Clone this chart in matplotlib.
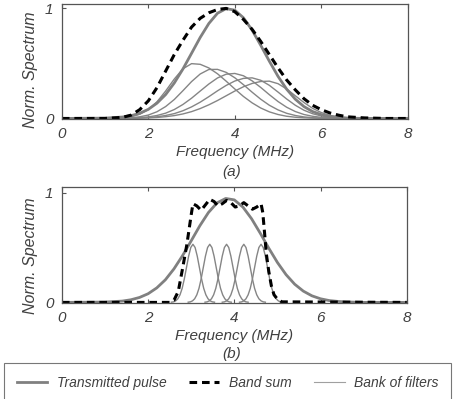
import matplotlib
matplotlib.use('Agg')
import matplotlib.pyplot as plt
from matplotlib.lines import Line2D
import numpy as np

plt.rcParams['font.family'] = ['Liberation Sans', 'DejaVu Sans']
plt.rcParams['font.style'] = 'italic'
plt.rcParams['font.size'] = 11
plt.rcParams['lines.scale_dashes'] = False

# frequency grid (MHz) used for the broad curves
freq = [0, 1.0, 1.4, 1.6, 1.8, 2.0, 2.2, 2.4, 2.6, 2.8,
        3.0, 3.2, 3.4, 3.6, 3.8, 4.0, 4.2, 4.4, 4.6, 4.8,
        5.0, 5.2, 5.4, 5.6, 5.8, 6.0, 6.2, 6.4, 6.6, 7.0, 7.5, 8.0]

# (a) transmitted pulse, band sum and the five broad filters
pulse_a = [0, .003, .013, .025, .047, .083, .139, .217, .322, .449,
           .592, .736, .863, .956, .998, .984, .915, .803, .665, .520,
           .383, .266, .175, .108, .063, .035, .018, .009, .004, 0, 0, 0]
bandsum_a = [0, 0, .01, .03, .08, .16, .28, .43, .58, .71,
             .83, .91, .96, .99, 1.0, .97, .90, .81, .70, .58,
             .46, .35, .26, .18, .12, .08, .05, .03, .015, .005, 0, 0]
filter_a1 = [0, 0, .006, .015, .038, .081, .151, .249, .358, .451,
             .498, .492, .459, .406, .339, .268, .200, .142, .095, .060,
             .036, .020, .011, .006, .003, .001, 0, 0, 0, 0, 0, 0]
filter_a2 = [0, 0, .002, .006, .015, .031, .061, .108, .172, .252,
             .335, .404, .445, .446, .419, .370, .307, .239, .175, .120,
             .078, .047, .027, .014, .007, .003, .001, 0, 0, 0, 0, 0]
filter_a3 = [0, 0, .001, .003, .007, .014, .027, .048, .081, .127,
             .184, .249, .313, .368, .402, .409, .388, .342, .282, .216,
             .154, .102, .063, .036, .020, .010, .005, .002, .001, 0, 0, 0]
filter_a4 = [0, 0, .001, .002, .004, .008, .015, .027, .044, .070,
             .105, .148, .198, .251, .300, .340, .364, .369, .347, .301,
             .240, .177, .120, .075, .043, .023, .011, .005, .002, 0, 0, 0]
filter_a5 = [0, 0, .001, .001, .003, .005, .009, .016, .026, .041,
             .062, .090, .124, .163, .206, .249, .288, .318, .336, .339,
             .316, .268, .206, .145, .092, .054, .028, .014, .006, .001, 0, 0]

# (b) transmitted pulse, band sum and the five narrow filters
pulse_b = [0, .003, .012, .024, .045, .079, .132, .206, .306, .427,
           .562, .699, .820, .908, .948, .935, .869, .763, .632, .494,
           .364, .253, .166, .103, .060, .033, .017, .009, .004, 0, 0, 0]
bandsum_b_freq = [0, 2.5, 2.6, 2.7, 2.8, 2.9, 3.0,
                  3.04, 3.13, 3.23, 3.33, 3.43, 3.53, 3.62, 3.72, 3.82, 3.92,
                  4.02, 4.12, 4.22, 4.32, 4.42, 4.52, 4.62,
                  4.66, 4.70, 4.74, 4.80, 4.86, 4.92, 5.0, 5.1, 8.0]
bandsum_b = [0, 0, .02, .10, .31, .53, .80,
             .90, .88, .84, .89, .94, .92, .88, .90, .93, .91,
             .87, .88, .91, .88, .85, .87, .90,
             .82, .64, .45, .28, .15, .07, .03, .005, 0]
filter_b_centers = [3.04, 3.43, 3.82, 4.22, 4.62]
filter_b_offsets = [-.50, -.45, -.40, -.35, -.30, -.25, -.20, -.15, -.10, -.05, 0,
                    .05, .10, .15, .20, .25, .30, .35, .40, .45, .50]
filter_b_profile = [.002, .005, .014, .033, .069, .128, .214, .318, .422, .501, .53,
                    .501, .422, .318, .214, .128, .069, .033, .014, .005, .002]

pulse_color = '#808080'
filter_color = '#858585'
text_color = '#404040'
spine_color = '#555555'
band_dash = (0, (5.5, 3.5))

fig = plt.figure(figsize=(4.55, 3.99), dpi=100)
ax_a = fig.add_axes([0.136, 0.702, 0.760, 0.288])
ax_b = fig.add_axes([0.136, 0.241, 0.758, 0.291])

for f in [filter_a1, filter_a2, filter_a3, filter_a4, filter_a5]:
    ax_a.plot(freq, f, color=filter_color, lw=1.0)
ax_a.plot(freq, pulse_a, color=pulse_color, lw=2.0)
ax_a.plot(freq, bandsum_a, color='black', lw=2.2, linestyle=band_dash)

for c in filter_b_centers:
    ax_b.plot(np.add(c, filter_b_offsets), filter_b_profile, color=filter_color, lw=1.0)
ax_b.plot(freq, pulse_b, color=pulse_color, lw=2.0)
ax_b.plot(bandsum_b_freq, bandsum_b, color='black', lw=2.2, linestyle=band_dash)

for ax, top, label_y in [(ax_a, 1.04, 0.426), (ax_b, 1.055, 0.405)]:
    ax.set_xlim(0, 8)
    ax.set_ylim(-0.004, top)
    ax.set_xticks([0, 2, 4, 6, 8])
    ax.set_yticks([0, 1])
    ax.tick_params(direction='in', length=3, width=0.8, pad=6, colors=spine_color,
                   labelcolor=text_color, labelsize=11, top=True)
    for spine in ax.spines.values():
        spine.set_color(spine_color)
        spine.set_linewidth(0.9)
    ax.set_ylabel('Norm. Spectrum', color=text_color, fontsize=11.5)
    ax.yaxis.set_label_coords(-0.068, label_y)
    ax.set_xlabel('Frequency (MHz)', color=text_color, labelpad=3)

fig.text(0.51, 0.568, '(a)', ha='center', va='center', color=text_color, fontsize=11)
fig.text(0.51, 0.113, '(b)', ha='center', va='center', color=text_color, fontsize=11)

legend_handles = [
    Line2D([0], [0], color=pulse_color, lw=2.0, label='Transmitted pulse'),
    Line2D([0], [0], color='black', lw=2.2, linestyle=band_dash, label='Band sum'),
    Line2D([0], [0], color='#a0a0a0', lw=0.8, label='Bank of filters'),
]
leg = fig.legend(handles=legend_handles, loc='lower left', ncol=3,
                 bbox_to_anchor=(0.009, -0.008), frameon=True, fancybox=False,
                 edgecolor='#555555', handlelength=2.2, handletextpad=0.7, columnspacing=1.6,
                 borderpad=0.9, borderaxespad=0,
                 prop={'family': 'Liberation Sans', 'style': 'italic', 'size': 10})
leg.get_frame().set_linewidth(0.8)
for t in leg.get_texts():
    t.set_color(text_color)

fig.savefig('out.png', dpi=100)
